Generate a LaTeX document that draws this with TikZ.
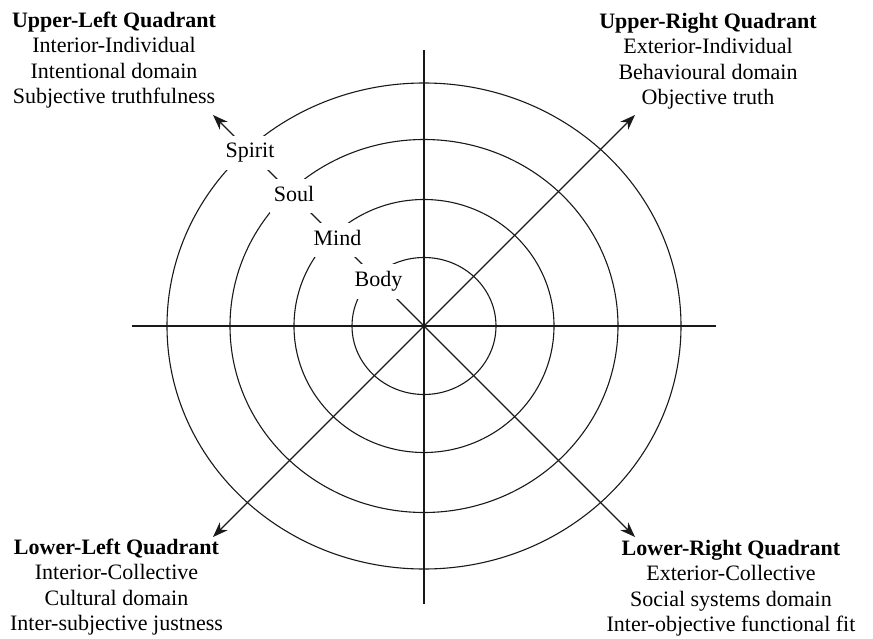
\documentclass[tikz,border=0pt]{standalone}
\usepackage{fontspec}
\setmainfont{Liberation Serif}
\usetikzlibrary{arrows.meta}
\begin{document}
\begin{tikzpicture}[x=1pt,y=-1pt,
  ax/.style={line width=1.1pt, black!90},
  arr/.style={ax, -{Stealth[length=15pt,width=11pt,inset=4.5pt]}},
  lvl/.style={fill=white, inner xsep=4pt, inner ysep=7pt, text height=15pt, text depth=5pt, font=\fontsize{22}{26}\selectfont},
  quad/.style={align=center, inner sep=0pt, font=\fontsize{22}{25.3}\selectfont, anchor=north},
]
\useasboundingbox (0,0) rectangle (873,639);
\coordinate (O) at (424,326);
\coordinate (L) at (132,326);
\coordinate (R) at (716,326);
\coordinate (T) at (424,50);
\coordinate (B) at (424,604);
\coordinate (UR) at (635,115);
\coordinate (UL) at (213,115);
\coordinate (LL) at (213,537);
\coordinate (LR) at (635,537);
\draw[ax] (O) ellipse [x radius=72pt, y radius=68.5pt];
\draw[ax] (O) ellipse [x radius=130pt, y radius=126.5pt];
\draw[ax] (O) ellipse [x radius=194pt, y radius=186.5pt];
\draw[ax] (O) ellipse [x radius=257pt, y radius=243pt];
\draw[ax] (L) -- (R);
\draw[ax] (T) -- (B);
\draw[arr] (O) -- (UR);
\draw[arr] (O) -- (UL);
\draw[arr] (O) -- (LL);
\draw[arr] (O) -- (LR);
\node[lvl] (body) at (378.5,281.5) {Body};
\node[lvl] (mind) at (337.5,240.5) {Mind};
\node[lvl] (soul) at (294,196.5) {Soul};
\node[lvl] (spirit) at (250,153) {Spirit};
\node[quad] (ulq) at (114,12) {\textbf{Upper-Left Quadrant}\\Interior-Individual\\Intentional domain\\Subjective truthfulness};
\node[quad] (urq) at (708,13) {\textbf{Upper-Right Quadrant}\\Exterior-Individual\\Behavioural domain\\Objective truth};
\node[quad] (llq) at (116.5,539) {\textbf{Lower-Left Quadrant}\\Interior-Collective\\Cultural domain\\Inter-subjective justness};
\node[quad] (lrq) at (731,540) {\textbf{Lower-Right Quadrant}\\Exterior-Collective\\Social systems domain\\Inter-objective functional fit};
\end{tikzpicture}
\end{document}
